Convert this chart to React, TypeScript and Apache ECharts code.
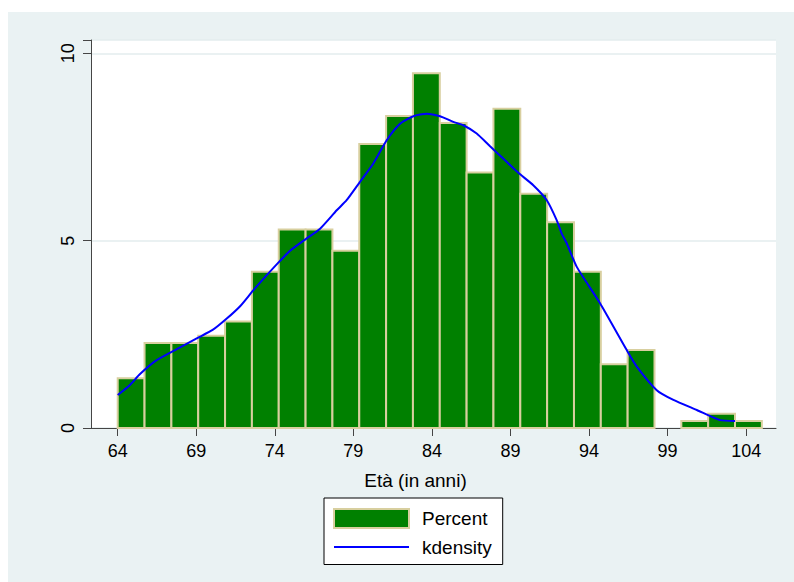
import React, { useEffect, useRef } from "react";
import * as echarts from "echarts";

const ageTicks = [64, 69, 74, 79, 84, 89, 94, 99, 104];
const yTicks = [0, 5, 10];
const binStart = 64;
const binWidth = 1.7083;
const percent = [
  1.33, 2.27, 2.27, 2.46, 2.84, 4.17, 5.3, 5.3, 4.73, 7.58, 8.33, 9.47,
  8.14, 6.82, 8.52, 6.25, 5.49, 4.17, 1.7, 2.08, 0, 0.19, 0.38, 0.19,
];
const kdAge = [
  64.0, 64.78, 65.42, 66.48, 67.97, 69.03, 70.09, 70.94, 71.79, 72.64, 73.49,
  74.33, 74.97, 76.03, 76.88, 77.94, 78.57, 79.42, 80.27, 81.12, 81.97, 82.82,
  83.67, 84.52, 85.36, 86.0, 86.85, 87.7, 88.54, 89.5, 90.45, 91.31, 91.94,
  92.26, 92.58, 93.22, 94.7, 96.4, 97.04, 98.31, 99.37, 100.86, 102.34, 103.29,
];
const kdVal = [
  0.88, 1.15, 1.44, 1.81, 2.15, 2.39, 2.63, 2.92, 3.25, 3.68, 4.08, 4.46,
  4.73, 5.06, 5.32, 5.81, 6.08, 6.57, 7.06, 7.68, 8.12, 8.32, 8.39, 8.32,
  8.17, 8.08, 7.86, 7.52, 7.19, 6.81, 6.48, 6.08, 5.55, 5.19, 4.93, 4.3,
  3.33, 2.08, 1.64, 1.01, 0.75, 0.48, 0.21, 0.19,
];

const FONT = "'Liberation Sans', Arial, Helvetica, sans-serif";
const BG = "#eaf2f3";
const GREEN = "#008000";
const TAN = "#d8cf9f";
const AXIS = "#454545";
const BLUE = "#0000ff";

export default function App() {
  const ref = useRef<HTMLDivElement>(null);
  useEffect(() => {
    if (!ref.current) return;
    const chart = echarts.init(ref.current, null, { renderer: "svg" });
    const barData = percent.map((p, i) => [
      binStart + i * binWidth,
      binStart + (i + 1) * binWidth,
      p,
    ]);
    const kdData = kdAge.map((a, i) => [a, kdVal[i]]);
    chart.setOption({
      animation: false,
      backgroundColor: BG,
      textStyle: { fontFamily: FONT },
      grid: {
        left: 83,
        top: 28,
        width: 685,
        height: 388,
        show: true,
        backgroundColor: "#ffffff",
        borderWidth: 0,
      },
      xAxis: {
        type: "value",
        min: 62.3,
        max: 105.9,
        axisLine: { show: true, onZero: false, lineStyle: { color: AXIS, width: 1 } },
        axisTick: {
          show: true,
          length: 8,
          customValues: ageTicks,
          lineStyle: { color: AXIS, width: 1 },
        },
        axisLabel: {
          customValues: ageTicks,
          fontSize: 18,
          color: "#000",
          margin: 14,
          fontFamily: FONT,
        },
        splitLine: { show: false },
      },
      yAxis: {
        type: "value",
        min: 0,
        max: 10.355,
        interval: 5,
        axisLine: { show: true, lineStyle: { color: AXIS, width: 1 } },
        axisTick: { show: true, length: 8, lineStyle: { color: AXIS, width: 1 } },
        axisLabel: {
          rotate: 90,
          fontSize: 18,
          color: "#000",
          margin: 14,
          fontFamily: FONT,
          formatter: (v: number) => (yTicks.includes(v) ? String(v) : ""),
        },
        splitLine: { show: true, lineStyle: { color: "#e3ecee", width: 1.5 } },
      },
      legend: {
        left: 316,
        top: 486,
        orient: "vertical",
        backgroundColor: "#ffffff",
        borderColor: "#000",
        borderWidth: 1,
        borderRadius: 0,
        padding: [10, 11, 8, 9],
        itemWidth: 75,
        itemHeight: 19,
        itemGap: 8.5,
        symbolKeepAspect: true,
        textStyle: {
          fontSize: 19,
          color: "#000",
          fontFamily: FONT,
          padding: [0, 0, 0, 8],
        },
        data: [
          {
            name: "Percent",
            icon: "rect",
            itemStyle: { color: GREEN, borderColor: TAN, borderWidth: 2 },
          },
          {
            name: "kdensity",
            icon: "path://M0,0H75V2H0Z",
            itemStyle: { color: BLUE, borderWidth: 0 },
          },
        ],
      },
      graphic: [
        {
          type: "text",
          x: 407.5,
          y: 468.5,
          style: {
            text: "Età (in anni)",
            fontSize: 19,
            fontFamily: FONT,
            fill: "#000",
            textAlign: "center",
            textVerticalAlign: "middle",
          },
        },
      ],
      series: [
        {
          name: "Percent",
          type: "custom",
          itemStyle: { color: GREEN, borderColor: TAN, borderWidth: 2 },
          encode: { x: [0, 1], y: 2 },
          data: barData,
          renderItem: (params: any, api: any) => {
            const x0 = api.value(0);
            const x1 = api.value(1);
            const v = api.value(2);
            if (!v) return null;
            const p0 = api.coord([x0, v]);
            const p1 = api.coord([x1, 0]);
            return {
              type: "rect",
              shape: { x: p0[0], y: p0[1], width: p1[0] - p0[0], height: p1[1] - p0[1] },
              style: { fill: GREEN, stroke: TAN, lineWidth: 2 },
            };
          },
          z: 2,
        },
        {
          name: "kdensity",
          type: "line",
          data: kdData,
          symbol: "none",
          showSymbol: false,
          smooth: 0.2,
          lineStyle: { color: BLUE, width: 2 },
          itemStyle: { color: BLUE },
          z: 3,
        },
      ],
    });
    return () => chart.dispose();
  }, []);
  return (
    <div
      ref={ref}
      style={{ position: "absolute", left: 8, top: 12, width: 786, height: 570 }}
    />
  );
}
